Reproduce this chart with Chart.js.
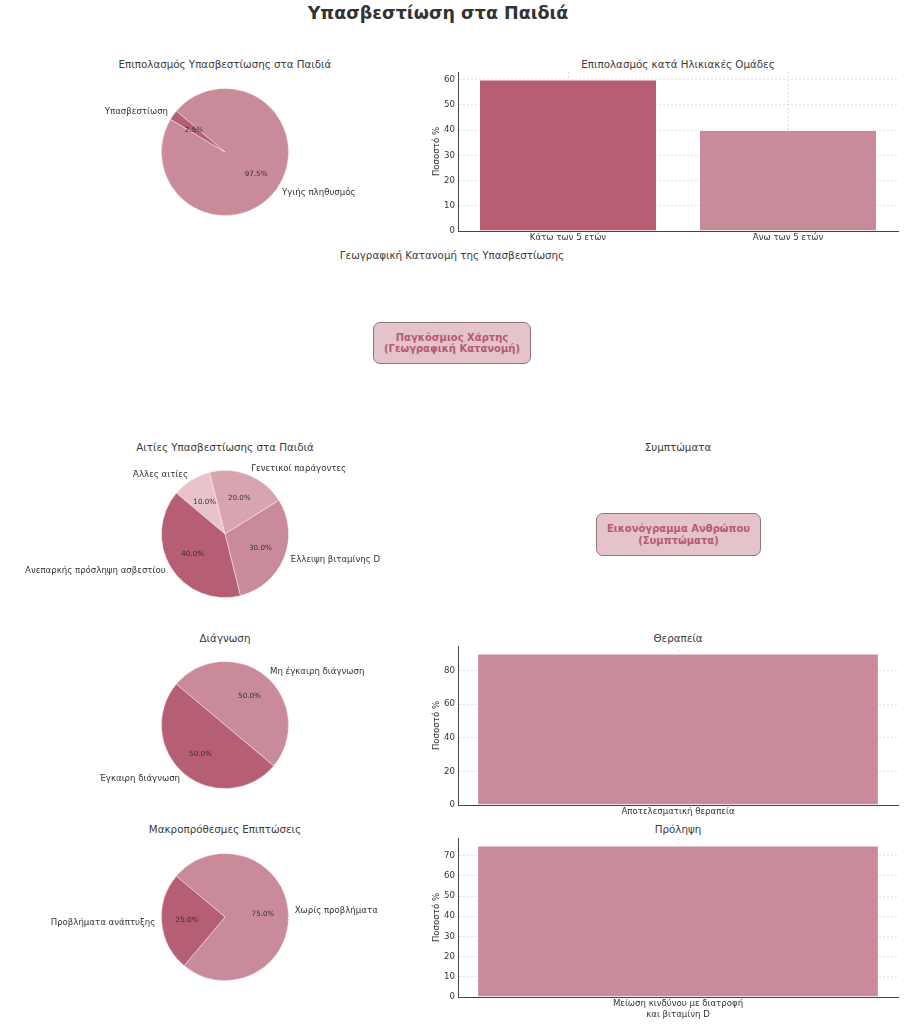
<!DOCTYPE html>
<html>
<head>
<meta charset="utf-8">
<script src="https://cdn.jsdelivr.net/npm/chart.js@4/dist/chart.umd.min.js"></script>
<style>
  html, body { margin:0; padding:0; background:#fff; }
  body { width:904px; height:1024px; position:relative; overflow:hidden; font-family:"DejaVu Sans", sans-serif; color:#333; }
  canvas { position:absolute; }
  .t { position:absolute; text-align:center; white-space:nowrap; color:#3a3a3a; font-size:10.3px; line-height:12px; }
  .main { position:absolute; left:0; width:876px; top:3px; text-align:center; font-weight:bold; font-size:17.5px; color:#333; }
  .box { position:absolute; box-sizing:border-box; background:#e5c3cb; border:1px solid #8e767b; border-radius:7px;
         color:#b55a70; font-weight:bold; font-size:10px; line-height:11.5px; text-align:center;
         display:flex; align-items:center; justify-content:center; }
</style>
</head>
<body>
<div class="main">Υπασβεστίωση στα Παιδιά</div>

<div class="t" style="left:25px;width:400px;top:58px;">Επιπολασμός Υπασβεστίωσης στα Παιδιά</div>
<div class="t" style="left:478px;width:400px;top:58px;">Επιπολασμός κατά Ηλικιακές Ομάδες</div>
<div class="t" style="left:252px;width:400px;top:249px;">Γεωγραφική Κατανομή της Υπασβεστίωσης</div>
<div class="t" style="left:25px;width:400px;top:441px;">Αιτίες Υπασβεστίωσης στα Παιδιά</div>
<div class="t" style="left:478px;width:400px;top:441px;">Συμπτώματα</div>
<div class="t" style="left:25px;width:400px;top:632px;">Διάγνωση</div>
<div class="t" style="left:478px;width:400px;top:632px;">Θεραπεία</div>
<div class="t" style="left:25px;width:400px;top:823px;">Μακροπρόθεσμες Επιπτώσεις</div>
<div class="t" style="left:478px;width:400px;top:823px;">Πρόληψη</div>

<div class="box" style="left:373px;top:322px;width:158px;height:42px;">Παγκόσμιος Χάρτης<br>(Γεωγραφική Κατανομή)</div>
<div class="box" style="left:596px;top:513px;width:165px;height:43px;">Εικονόγραμμα Ανθρώπου<br>(Συμπτώματα)</div>

<canvas id="pie1" width="452" height="190" style="left:0;top:57px;"></canvas>
<canvas id="pie2" width="452" height="190" style="left:0;top:439px;"></canvas>
<canvas id="pie3" width="452" height="190" style="left:0;top:630px;"></canvas>
<canvas id="pie4" width="452" height="190" style="left:0;top:822px;"></canvas>

<canvas id="bar1" width="484" height="200" style="left:420px;top:55px;"></canvas>
<canvas id="bar2" width="484" height="200" style="left:420px;top:630px;"></canvas>
<canvas id="bar3" width="484" height="202" style="left:420px;top:822px;"></canvas>

<script>
// ---------- DATA ----------
const DARK = '#b65e73', LIGHT = '#c98a99', LIGHTER = '#d8a4b0', LIGHTEST = '#e8c3cb';

const prevalenceLabels = ['Υπασβεστίωση', 'Υγιής πληθυσμός'];
const prevalenceValues = [2.5, 97.5];
const prevalenceColors = [DARK, LIGHT];

const ageLabels = ['Κάτω των 5 ετών', 'Άνω των 5 ετών'];
const ageValues = [60, 40];
const ageColors = [DARK, LIGHT];

const causeLabels = ['Ανεπαρκής πρόσληψη ασβεστίου', 'Έλλειψη βιταμίνης D', 'Γενετικοί παράγοντες', 'Άλλες αιτίες'];
const causeValues = [40, 30, 20, 10];
const causeColors = [DARK, LIGHT, LIGHTER, LIGHTEST];

const diagnosisLabels = ['Έγκαιρη διάγνωση', 'Μη έγκαιρη διάγνωση'];
const diagnosisValues = [50, 50];
const diagnosisColors = [DARK, LIGHT];

const therapyLabels = ['Αποτελεσματική θεραπεία'];
const therapyValues = [90];

const longTermLabels = ['Προβλήματα ανάπτυξης', 'Χωρίς προβλήματα'];
const longTermValues = [25, 75];
const longTermColors = [DARK, LIGHT];

const preventionLabels = [['Μείωση κινδύνου με διατροφή', 'και βιταμίνη D']];
const preventionValues = [75];

const ageTicksMax = 63, therapyTicksMax = 94.5, preventionTicksMax = 78.75;

// ---------- SETUP ----------
Chart.defaults.font.family = '"DejaVu Sans", sans-serif';
Chart.defaults.color = '#333';
Chart.defaults.animation = false;

const pieLabelPlugin = {
  id: 'pieLabelPlugin',
  afterDatasetsDraw(chart) {
    const ctx = chart.ctx;
    const meta = chart.getDatasetMeta(0);
    const data = chart.data.datasets[0].data;
    const total = data.reduce((a, b) => a + b, 0);
    meta.data.forEach((arc, i) => {
      const p = arc.getProps(['x', 'y', 'startAngle', 'endAngle', 'outerRadius'], true);
      const mid = (p.startAngle + p.endAngle) / 2;
      const c = Math.cos(mid), s = Math.sin(mid);
      ctx.save();
      ctx.fillStyle = '#333';
      ctx.textBaseline = 'middle';
      ctx.font = '8.6px "DejaVu Sans"';
      ctx.textAlign = c < 0 ? 'right' : 'left';
      ctx.fillText(chart.data.labels[i], p.x + 1.1 * p.outerRadius * c, p.y + 1.1 * p.outerRadius * s);
      ctx.font = '7.2px "DejaVu Sans"';
      ctx.textAlign = 'center';
      ctx.fillText((data[i] / total * 100).toFixed(1) + '%', p.x + 0.6 * p.outerRadius * c, p.y + 0.6 * p.outerRadius * s);
      ctx.restore();
    });
  }
};

function makePie(id, labels, values, colors) {
  // matplotlib draws counter-clockwise from 140°; Chart.js draws clockwise,
  // so reverse order and start at the same boundary.
  const L = labels.slice().reverse(), V = values.slice().reverse(), C = colors.slice().reverse();
  new Chart(document.getElementById(id), {
    type: 'pie',
    data: { labels: L, datasets: [{ data: V, backgroundColor: C, borderColor: 'rgba(255,255,255,0.55)', borderWidth: 0.8 }] },
    options: {
      responsive: false, devicePixelRatio: 1,
      rotation: -50,
      layout: { padding: { left: 161, right: 163, top: 31, bottom: 31 } },
      plugins: { legend: { display: false }, tooltip: { enabled: false } }
    },
    plugins: [pieLabelPlugin]
  });
}

function makeBar(id, labels, values, colors, yMax, step, barPct, padTop, xHeight) {
  new Chart(document.getElementById(id), {
    type: 'bar',
    data: { labels: labels, datasets: [{ data: values, backgroundColor: colors,
      borderColor: 'rgba(255,255,255,0.5)', borderWidth: 1, borderSkipped: 'bottom',
      barPercentage: barPct, categoryPercentage: 1 }] },
    options: {
      responsive: false, devicePixelRatio: 1,
      layout: { padding: { left: 12, right: 6, top: padTop, bottom: 0 } },
      plugins: { legend: { display: false }, tooltip: { enabled: false } },
      scales: {
        x: {
          z: 1,
          grid: { offset: false, drawTicks: false, color: 'rgba(185,185,185,0.45)' },
          border: { color: '#444', width: 1, dash: [2, 2] },
          ticks: { padding: 2, font: { size: 8.6 }, color: '#333', maxRotation: 0, autoSkip: false },
          afterFit(s) { s.height = xHeight; }
        },
        y: {
          z: 1,
          min: 0, max: yMax,
          grid: { drawTicks: false, color: 'rgba(185,185,185,0.45)' },
          border: { color: '#444', width: 1, dash: [2, 2] },
          ticks: { stepSize: step, padding: 3, font: { size: 8.6 }, color: '#333' },
          afterBuildTicks(s) {
            const t = [];
            for (let v = 0; v <= yMax + 1e-9; v += step) t.push({ value: v });
            s.ticks = t;
          },
          title: { display: true, text: 'Ποσοστό %', font: { size: 8.6 }, color: '#333', padding: { top: 0, bottom: 0 } },
          afterFit(s) { s.width = 26; }
        }
      }
    }
  });
}

makePie('pie1', prevalenceLabels, prevalenceValues, prevalenceColors);
makePie('pie2', causeLabels, causeValues, causeColors);
makePie('pie3', diagnosisLabels, diagnosisValues, diagnosisColors);
makePie('pie4', longTermLabels, longTermValues, longTermColors);

makeBar('bar1', ageLabels, ageValues, ageColors, ageTicksMax, 10, 0.809, 17, 24);
makeBar('bar2', therapyLabels, therapyValues, [LIGHT], therapyTicksMax, 20, 0.913, 16, 25);
makeBar('bar3', preventionLabels, preventionValues, [LIGHT], preventionTicksMax, 10, 0.913, 16, 27);
</script>
</body>
</html>
